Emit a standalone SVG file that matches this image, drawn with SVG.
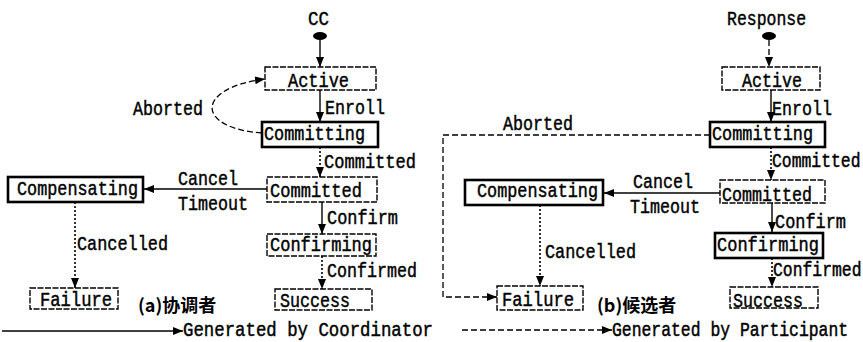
<svg xmlns="http://www.w3.org/2000/svg" width="863" height="342" viewBox="0 0 863 342">
<defs>
<marker id="ah" markerUnits="userSpaceOnUse" markerWidth="11" markerHeight="9" refX="10" refY="4" orient="auto">
<path d="M0,0 L10,4 L0,8 z" fill="#000"/>
</marker>
<style>
.t{font-family:"Liberation Mono","DejaVu Sans Mono",monospace;font-size:20px;fill:#000;stroke:#000;stroke-width:0.45}
.n{font-size:16.4px;stroke-width:0.4}
.cn{font-family:"Noto Sans CJK SC",sans-serif;font-size:18px;font-weight:bold;fill:#000}
.bx{fill:#fff;stroke:#000;stroke-width:1.4;stroke-dasharray:6 1.5}
.bk{fill:#fff;stroke:#000;stroke-width:2.6}
.s{fill:none;stroke:#000;stroke-width:1.4;marker-end:url(#ah)}
.d{fill:none;stroke:#000;stroke-width:1.3;stroke-dasharray:6 3;marker-end:url(#ah)}
.o{fill:none;stroke:#000;stroke-width:1.6;stroke-dasharray:2 2;marker-end:url(#ah)}
</style>
</defs>
<rect width="863" height="342" fill="#fff"/>

<g id="connectors">
<!-- left -->
<ellipse cx="320" cy="36" rx="7" ry="4" fill="#000"/>
<path class="s" d="M320,40 L320,67"/>
<path class="s" d="M320,90 L320,122"/>
<path class="d" d="M262,133 C195,128 195,88 265,79"/>
<path class="o" d="M320,147 L320,177"/>
<path class="s" d="M267,189 L144,189"/>
<path class="o" d="M75,202 L75,288"/>
<path class="s" d="M322,202 L322,234"/>
<path class="o" d="M322,256 L322,289"/>
<!-- right -->
<ellipse cx="769" cy="36" rx="7" ry="4" fill="#000"/>
<path class="d" d="M769,40 L769,67"/>
<path class="s" d="M771,90 L771,122"/>
<path class="d" d="M710,135 L443,135 L443,297 L497,297"/>
<path class="o" d="M771,147 L771,180"/>
<path class="s" d="M720,193 L604,193"/>
<path class="o" d="M540,205 L540,286"/>
<path class="s" d="M772,203 L772,232"/>
<path class="o" d="M772,258 L772,287"/>
<!-- legend -->
<path class="s" d="M2,331 L183,331" stroke-width="1"/>
<path class="d" d="M462,330 L612,330"/>
</g>

<g id="left-labels">
<text class="t" x="308" y="25" textLength="21" lengthAdjust="spacingAndGlyphs">CC</text>
<text class="t" x="325" y="114" textLength="60" lengthAdjust="spacingAndGlyphs">Enroll</text>
<text class="t" x="133" y="115" textLength="70" lengthAdjust="spacingAndGlyphs">Aborted</text>
<text class="t" x="324" y="168" textLength="92" lengthAdjust="spacingAndGlyphs">Committed</text>
<text class="t" x="178" y="185" textLength="60" lengthAdjust="spacingAndGlyphs">Cancel</text>
<text class="t" x="178" y="210" textLength="70" lengthAdjust="spacingAndGlyphs">Timeout</text>
<text class="t" x="327" y="224" textLength="71" lengthAdjust="spacingAndGlyphs">Confirm</text>
<text class="t" x="327" y="277" textLength="90" lengthAdjust="spacingAndGlyphs">Confirmed</text>
<text class="t" x="77" y="250" textLength="91" lengthAdjust="spacingAndGlyphs">Cancelled</text>
<text class="cn" x="138" y="312">(a)协调者</text>
<text class="t" x="183" y="336" textLength="250" lengthAdjust="spacingAndGlyphs">Generated by Coordinator</text>
</g>

<g id="a-active"><rect class="bx" x="265" y="67" width="111" height="23"/><text class="t" x="288" y="87" textLength="61" lengthAdjust="spacingAndGlyphs">Active</text></g>
<g id="a-committing"><rect class="bk" x="262" y="122" width="116" height="25"/><text class="t" x="264" y="140" textLength="101" lengthAdjust="spacingAndGlyphs">Committing</text></g>
<g id="a-committed"><rect class="bx" x="267" y="177" width="110" height="25"/><text class="t" x="270" y="197" textLength="92" lengthAdjust="spacingAndGlyphs">Committed</text></g>
<g id="a-compensating"><rect class="bk" x="8" y="177" width="135" height="25"/><text class="t" x="17" y="195" textLength="121" lengthAdjust="spacingAndGlyphs">Compensating</text></g>
<g id="a-confirming"><rect class="bx" x="267" y="234" width="109" height="22"/><text class="t" x="270" y="251" textLength="102" lengthAdjust="spacingAndGlyphs">Confirming</text></g>
<g id="a-success"><rect class="bx" x="275" y="289" width="97" height="21"/><text class="t" x="280" y="307" textLength="70" lengthAdjust="spacingAndGlyphs">Success</text></g>
<g id="a-failure"><rect class="bx" x="30" y="288" width="88" height="21"/><text class="t" x="40" y="306" textLength="72" lengthAdjust="spacingAndGlyphs">Failure</text></g>

<g id="right-labels">
<text class="t" x="727" y="25" textLength="79" lengthAdjust="spacingAndGlyphs">Response</text>
<text class="t" x="772" y="115" textLength="60" lengthAdjust="spacingAndGlyphs">Enroll</text>
<text class="t" x="503" y="130" textLength="70" lengthAdjust="spacingAndGlyphs">Aborted</text>
<text class="t n" transform="translate(772,167) scale(1,1.2)" x="0" y="0">Committed</text>
<text class="t" x="633" y="188" textLength="60" lengthAdjust="spacingAndGlyphs">Cancel</text>
<text class="t" x="630" y="213" textLength="70" lengthAdjust="spacingAndGlyphs">Timeout</text>
<text class="t" x="775" y="228" textLength="71" lengthAdjust="spacingAndGlyphs">Confirm</text>
<text class="t n" transform="translate(773,276) scale(1,1.2)" x="0" y="0">Confirmed</text>
<text class="t" x="545" y="258" textLength="91" lengthAdjust="spacingAndGlyphs">Cancelled</text>
<text class="cn" x="597" y="312">(b)候选者</text>
<text class="t n" transform="translate(612,336) scale(1,1.2)" x="0" y="0">Generated by Participant</text>
</g>

<g id="b-active"><rect class="bx" x="722" y="67" width="98" height="23"/><text class="t" x="742" y="87" textLength="60" lengthAdjust="spacingAndGlyphs">Active</text></g>
<g id="b-committing"><rect class="bk" x="710" y="122" width="115" height="25"/><text class="t" x="712" y="140" textLength="101" lengthAdjust="spacingAndGlyphs">Committing</text></g>
<g id="b-committed"><rect class="bx" x="720" y="180" width="105" height="23"/><text class="t" x="722" y="201" textLength="90" lengthAdjust="spacingAndGlyphs">Committed</text></g>
<g id="b-compensating"><rect class="bk" x="465" y="180" width="138" height="25"/><text class="t" x="477" y="197" textLength="121" lengthAdjust="spacingAndGlyphs">Compensating</text></g>
<g id="b-confirming"><rect class="bk" x="715" y="233" width="108" height="25"/><text class="t" x="717" y="251" textLength="102" lengthAdjust="spacingAndGlyphs">Confirming</text></g>
<g id="b-success"><rect class="bx" x="730" y="287" width="88" height="21"/><text class="t" x="733" y="307" textLength="70" lengthAdjust="spacingAndGlyphs">Success</text></g>
<g id="b-failure"><rect class="bx" x="497" y="286" width="86" height="24"/><text class="t" x="502" y="306" textLength="72" lengthAdjust="spacingAndGlyphs">Failure</text></g>
</svg>
